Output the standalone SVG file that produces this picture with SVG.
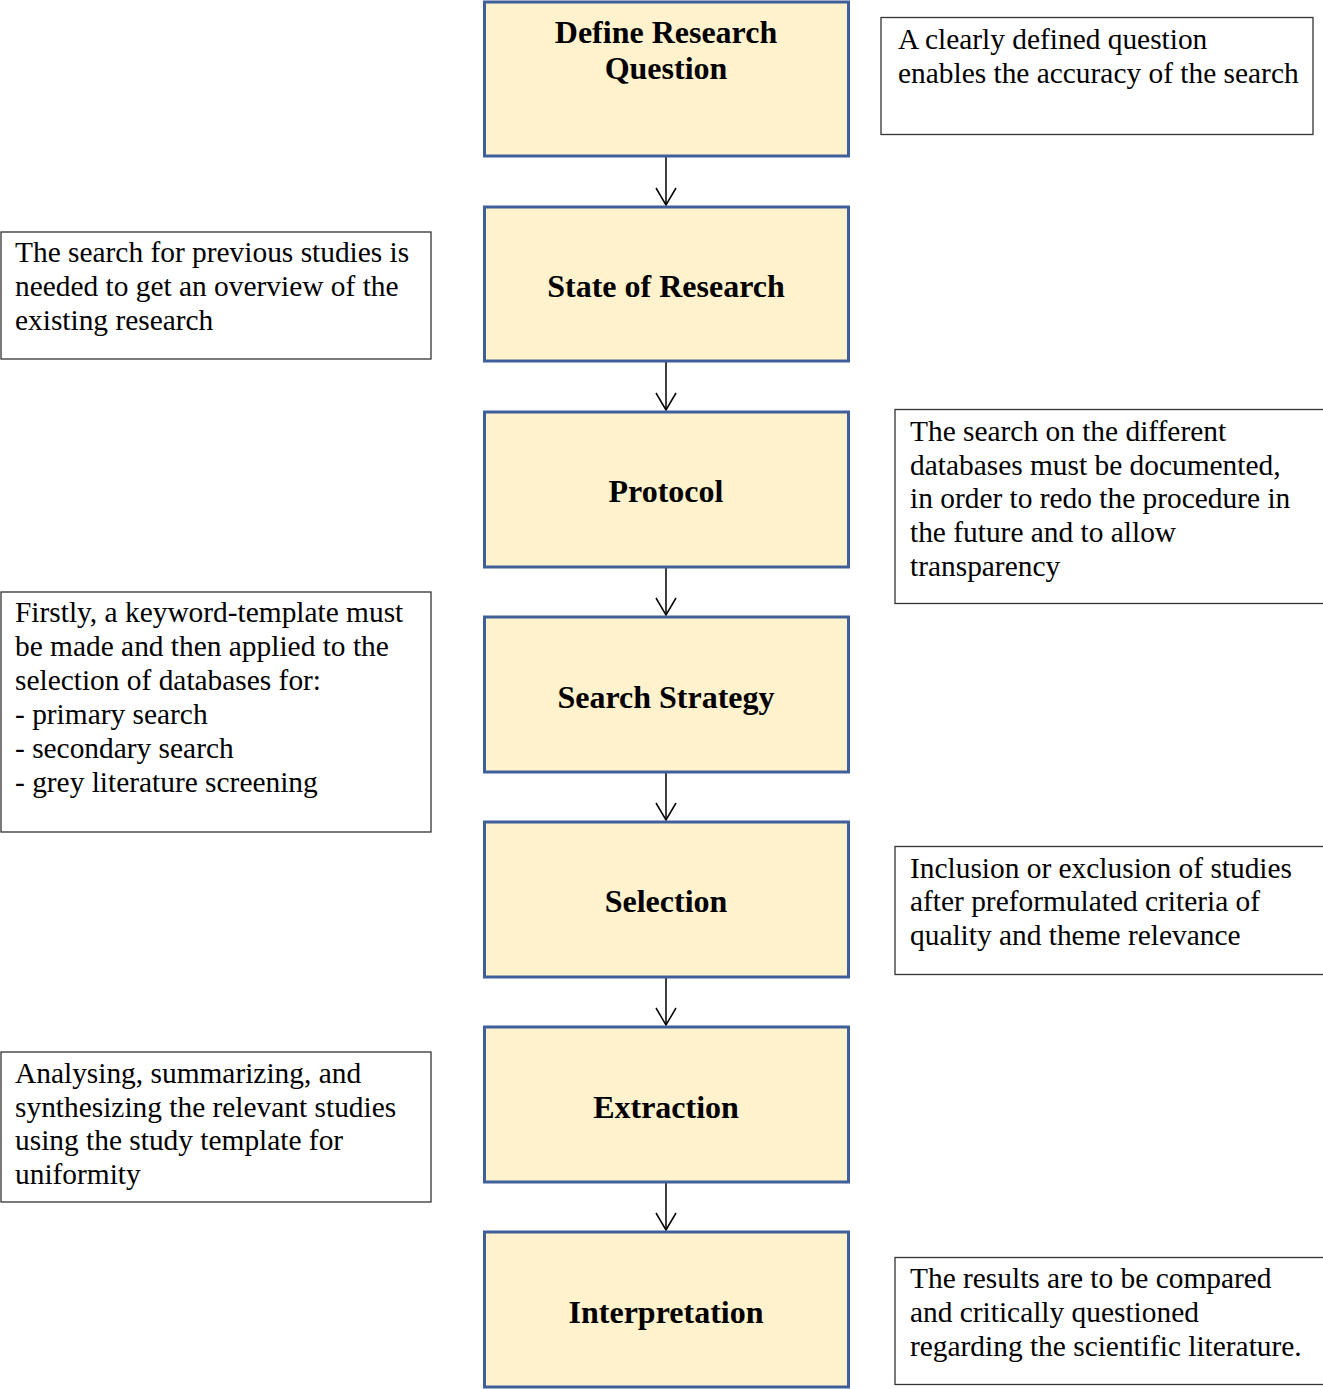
<svg xmlns="http://www.w3.org/2000/svg" width="1323" height="1389" viewBox="0 0 1323 1389">
<style>
.step{fill:#FFF2CC;stroke:#3F5F9A;stroke-width:3}
.note{fill:#FFFFFF;stroke:#333333;stroke-width:1.3}
.st{font-family:"Liberation Serif","Times New Roman",serif;font-weight:bold;font-size:32px;fill:#000;text-anchor:middle}
.nt{font-family:"Liberation Serif","Times New Roman",serif;font-size:29.4px;fill:#000}
.conn{stroke:#000;stroke-width:1.5;fill:none}
</style>
<rect width="1323" height="1389" fill="#FFFFFF"/>
<g id="connectors">
<line class="conn" x1="666" y1="157" x2="666" y2="205"/>
<path class="conn" d="M656,188 L666,205 L676,188"/>
<line class="conn" x1="666" y1="362" x2="666" y2="410"/>
<path class="conn" d="M656,393 L666,410 L676,393"/>
<line class="conn" x1="666" y1="568" x2="666" y2="615"/>
<path class="conn" d="M656,598 L666,615 L676,598"/>
<line class="conn" x1="666" y1="773" x2="666" y2="820"/>
<path class="conn" d="M656,803 L666,820 L676,803"/>
<line class="conn" x1="666" y1="978" x2="666" y2="1025"/>
<path class="conn" d="M656,1008 L666,1025 L676,1008"/>
<line class="conn" x1="666" y1="1183" x2="666" y2="1230"/>
<path class="conn" d="M656,1213 L666,1230 L676,1213"/>
</g>
<g id="step1"><rect class="step" x="484.5" y="2" width="364" height="154"/><text class="st" x="666" y="43">Define Research</text><text class="st" x="666" y="79">Question</text></g>
<g id="step2"><rect class="step" x="484.5" y="207" width="364" height="154"/><text class="st" x="666" y="297">State of Research</text></g>
<g id="step3"><rect class="step" x="484.5" y="412" width="364" height="155"/><text class="st" x="666" y="502">Protocol</text></g>
<g id="step4"><rect class="step" x="484.5" y="617" width="364" height="155"/><text class="st" x="666" y="708">Search Strategy</text></g>
<g id="step5"><rect class="step" x="484.5" y="822" width="364" height="155"/><text class="st" x="666" y="912">Selection</text></g>
<g id="step6"><rect class="step" x="484.5" y="1027" width="364" height="155"/><text class="st" x="666" y="1118">Extraction</text></g>
<g id="step7"><rect class="step" x="484.5" y="1232" width="364" height="155"/><text class="st" x="666" y="1323">Interpretation</text></g>
<g id="note1"><rect class="note" x="881" y="17.5" width="432" height="117"/><text class="nt" x="898" y="49">A clearly defined question</text><text class="nt" x="898" y="83">enables the accuracy of the search</text></g>
<g id="note2"><rect class="note" x="1" y="232" width="430" height="127"/><text class="nt" x="15" y="262">The search for previous studies is</text><text class="nt" x="15" y="296">needed to get an overview of the</text><text class="nt" x="15" y="330">existing research</text></g>
<g id="note3"><rect class="note" x="895" y="409.5" width="440" height="194"/><text class="nt" x="910" y="441">The search on the different</text><text class="nt" x="910" y="475">databases must be documented,</text><text class="nt" x="910" y="508">in order to redo the procedure in</text><text class="nt" x="910" y="542">the future and to allow</text><text class="nt" x="910" y="576">transparency</text></g>
<g id="note4"><rect class="note" x="1" y="592" width="430" height="240"/><text class="nt" x="15" y="622">Firstly, a keyword-template must</text><text class="nt" x="15" y="656">be made and then applied to the</text><text class="nt" x="15" y="690">selection of databases for:</text><text class="nt" x="15" y="724">- primary search</text><text class="nt" x="15" y="758">- secondary search</text><text class="nt" x="15" y="792">- grey literature screening</text></g>
<g id="note5"><rect class="note" x="895" y="846.5" width="440" height="128"/><text class="nt" x="910" y="878">Inclusion or exclusion of studies</text><text class="nt" x="910" y="911">after preformulated criteria of</text><text class="nt" x="910" y="945">quality and theme relevance</text></g>
<g id="note6"><rect class="note" x="1" y="1052" width="430" height="150"/><text class="nt" x="15" y="1083">Analysing, summarizing, and</text><text class="nt" x="15" y="1117">synthesizing the relevant studies</text><text class="nt" x="15" y="1150">using the study template for</text><text class="nt" x="15" y="1184">uniformity</text></g>
<g id="note7"><rect class="note" x="895" y="1257.5" width="440" height="127"/><text class="nt" x="910" y="1288">The results are to be compared</text><text class="nt" x="910" y="1322">and critically questioned</text><text class="nt" x="910" y="1356">regarding the scientific literature.</text></g>
</svg>
